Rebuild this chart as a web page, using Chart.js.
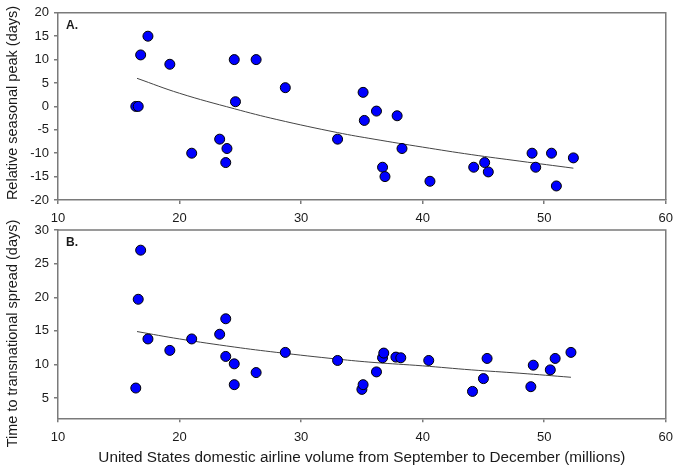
<!DOCTYPE html>
<html>
<head>
<meta charset="utf-8">
<script src="https://cdn.jsdelivr.net/npm/chart.js@4.4.1/dist/chart.umd.min.js"></script>
<style>
  body { margin: 0; background: #fff; }
  #wrap { position: relative; width: 680px; height: 475px; }
  canvas { position: absolute; left: 0; }
</style>
</head>
<body>
<div id="wrap">
  <canvas id="peakChart" width="680" height="225" style="top:0"></canvas>
  <canvas id="spreadChart" width="680" height="280" style="top:195px"></canvas>
</div>
<script>
// panel A: relative seasonal peak vs airline volume
const volA  = [16.4, 16.6, 16.8, 17.4, 19.2, 21.0, 23.3, 23.9, 23.8, 24.5, 24.6, 26.3, 28.7, 33.0,
               35.1, 35.2, 36.2, 36.7, 36.9, 37.9, 38.3, 40.6, 44.2, 45.1, 45.4, 49.0, 49.3, 50.6, 51.0, 52.4];
const peakA = [0, 0, 11, 15, 9, -10, -7, -9, -12, 10, 1, 10, 4, -7,
               3, -3, -1, -13, -15, -2, -9, -16, -13, -12, -14, -10, -13, -10, -17, -11];
const fitXA = [16.5, 20, 24.5, 28, 33, 36, 40, 44, 48, 52.4];
const fitA  = [6.0, 2.8, -0.5, -2.8, -5.6, -7.0, -8.7, -10.3, -11.7, -13.2];

// panel B: time to transnational spread vs airline volume
const volB    = [16.8, 16.6, 16.4, 17.4, 19.2, 21.0, 23.3, 23.8, 23.8, 24.5, 24.5, 26.3, 28.7, 33.0,
                 35.0, 35.1, 36.2, 36.7, 36.8, 37.8, 38.2, 40.5, 44.1, 45.0, 45.3, 48.9, 49.1, 50.5, 50.9, 52.2];
const spreadB = [27.0, 19.7, 6.5, 13.8, 12.1, 13.8, 14.5, 16.8, 11.2, 10.1, 7.0, 8.8, 11.8, 10.6,
                 6.3, 7.0, 8.9, 11.0, 11.7, 11.1, 11.0, 10.6, 6.0, 7.9, 10.9, 6.7, 9.9, 9.2, 10.9, 11.8];
const fitXB = [16.5, 20, 24.5, 28, 33, 36, 40, 44, 48, 52.2];
const fitB  = [14.9, 13.8, 12.6, 11.8, 10.8, 10.3, 9.8, 9.2, 8.7, 8.1];

const FONT = "'Liberation Sans', Arial, sans-serif";
const AXIS = "#7a7a7a";
const INK = "#1a1a1a";

// top/right frame, panel letter and the rotated y title (placed like the original, not centred on the axis)
const framePlugin = {
  id: "frame",
  afterDraw(chart, args, opts) {
    const { ctx, chartArea: a } = chart;
    ctx.save();
    ctx.strokeStyle = AXIS;
    ctx.lineWidth = 1.5;
    ctx.beginPath();
    ctx.moveTo(a.left, a.top);
    ctx.lineTo(a.right, a.top);
    ctx.lineTo(a.right, a.bottom);
    ctx.stroke();
    ctx.fillStyle = INK;
    ctx.font = "bold 12px " + FONT;
    ctx.textBaseline = "middle";
    ctx.fillText(opts.label, a.left + 8, a.top + 13);

    ctx.translate(13, opts.titleY);
    ctx.rotate(-Math.PI / 2);
    ctx.font = "14.5px " + FONT;
    ctx.textAlign = "center";
    ctx.fillText(opts.yTitle, 0, 0);
    ctx.restore();
  },
};

function toPoints(xs, ys) {
  return xs.map((x, i) => ({ x, y: ys[i] }));
}

function axisX(height, title) {
  return {
    type: "linear", min: 10, max: 60,
    ticks: { stepSize: 10, color: INK, font: { size: 13, family: FONT }, padding: 7 },
    grid: { drawOnChartArea: false, tickLength: 4, color: AXIS, lineWidth: 1.5 },
    border: { color: AXIS, width: 1.5 },
    title: title
      ? { display: true, text: title, color: INK, font: { size: 15.3, family: FONT }, padding: { top: 8, bottom: 8 } }
      : { display: false },
    afterFit: (s) => { s.height = height; },
  };
}

function axisY(min, max) {
  return {
    min, max,
    ticks: { stepSize: 5, color: INK, font: { size: 13, family: FONT }, padding: 5 },
    grid: { drawOnChartArea: false, tickLength: 4, color: AXIS, lineWidth: 1.5 },
    border: { color: AXIS, width: 1.5 },
    afterBuildTicks: (s) => { s.ticks = s.ticks.filter((t) => t.value % 5 === 0); },
    afterFit: (s) => { s.width = 58; },
  };
}

function buildPanel(id, label, pts, fit, yMin, yMax, yTitle, titleY, xHeight, xTitle, pad) {
  new Chart(document.getElementById(id), {
    type: "scatter",
    data: {
      datasets: [
        {
          data: pts,
          backgroundColor: "#0000ff",
          borderColor: "#000",
          borderWidth: 1,
          pointRadius: 5,
        },
        {
          data: fit,
          showLine: true,
          borderColor: "#444",
          borderWidth: 1,
          pointRadius: 0,
          tension: 0.4,
          fill: false,
        },
      ],
    },
    options: {
      responsive: false,
      animation: false,
      layout: { padding: pad },
      plugins: { legend: { display: false }, tooltip: { enabled: false }, frame: { label, yTitle, titleY } },
      scales: { x: axisX(xHeight, xTitle), y: axisY(yMin, yMax) },
    },
    plugins: [framePlugin],
  });
}

buildPanel("peakChart", "A.", toPoints(volA, peakA), toPoints(fitXA, fitA), -20, 20,
  "Relative seasonal peak (days)", 103, 25, null, { top: 12, right: 11, left: 0, bottom: 0 });
buildPanel("spreadChart", "B.", toPoints(volB, spreadB), toPoints(fitXB, fitB), 2, 30,
  "Time to transnational spread (days)", 138.5, 56.7,
  "United States domestic airline volume from September to December (millions)",
  { top: 35, right: 13, left: 0, bottom: 0 });
</script>
</body>
</html>
